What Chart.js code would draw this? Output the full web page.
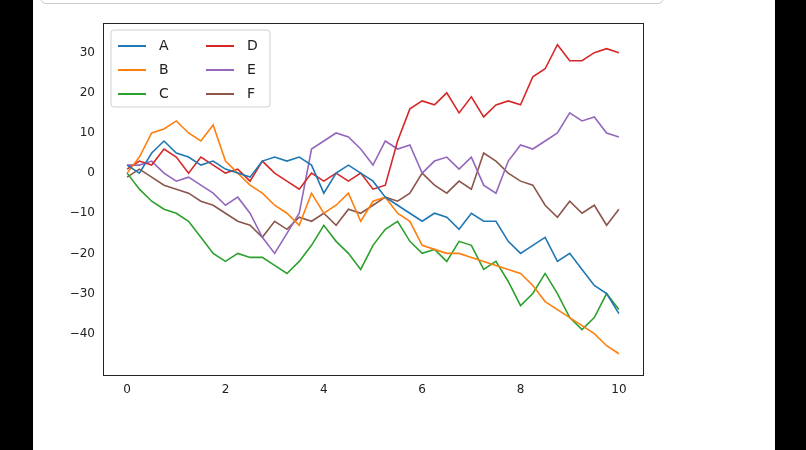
<!DOCTYPE html>
<html>
<head>
<meta charset="utf-8">
<script src="https://cdn.jsdelivr.net/npm/chart.js@4"></script>
<style>
  body { margin:0; background:#000; width:806px; height:450px; overflow:hidden; position:relative; }
  #page { position:absolute; left:33px; top:0; width:742px; height:450px; background:#fff; }
  #topbox { position:absolute; left:40px; top:-10px; width:622px; height:12px; border:1px solid #ccc; border-radius:6px; background:#fff; }
  #wrap { position:absolute; left:60px; top:0; width:600px; height:420px; }
</style>
</head>
<body>
<div id="page"></div>
<div id="topbox"></div>
<div id="wrap"><canvas id="c"></canvas></div>
<script>
const xs = [0,0.25,0.5,0.75,1,1.25,1.5,1.75,2,2.25,2.5,2.75,3,3.25,3.5,3.75,4,4.25,4.5,4.75,5,5.25,5.5,5.75,6,6.25,6.5,6.75,7,7.25,7.5,7.75,8,8.25,8.5,8.75,9,9.25,9.5,9.75,10];
const seriesA = [2,0,5,8,5,4,2,3,1,0,-1,3,4,3,4,2,-5,0,2,0,-2,-6,-8,-10,-12,-10,-11,-14,-10,-12,-12,-17,-20,-18,-16,-22,-20,-24,-28,-30,-35];
const seriesB = [0,4,10,11,13,10,8,12,3,0,-3,-5,-8,-10,-13,-5,-10,-8,-5,-12,-7,-6,-10,-12,-18,-19,-20,-20,-21,-22,-23,-24,-25,-28,-32,-34,-36,-38,-40,-43,-45];
const seriesC = [0,-4,-7,-9,-10,-12,-16,-20,-22,-20,-21,-21,-23,-25,-22,-18,-13,-17,-20,-24,-18,-14,-12,-17,-20,-19,-22,-17,-18,-24,-22,-27,-33,-30,-25,-30,-36,-39,-36,-30,-34];
const seriesD = [1,3,2,6,4,0,4,2,0,1,-2,3,0,-2,-4,0,-2,0,-2,0,-4,-3,8,16,18,17,20,15,19,14,17,18,17,24,26,32,28,28,30,31,30];
const seriesE = [2,2,3,0,-2,-1,-3,-5,-8,-6,-10,-16,-20,-15,-10,6,8,10,9,6,2,8,6,7,0,3,4,1,4,-3,-5,3,7,6,8,10,15,13,14,10,9];
const seriesF = [-1,1,-1,-3,-4,-5,-7,-8,-10,-12,-13,-16,-12,-14,-11,-12,-10,-13,-9,-10,-8,-6,-7,-5,0,-3,-5,-2,-4,5,3,0,-2,-3,-8,-11,-7,-10,-8,-13,-9];
const names = ['A','B','C','D','E','F'];
const colors = ['#1f77b4','#ff7f0e','#2ca02c','#d62728','#9467bd','#8c564b'];
const yTicks = [-40,-30,-20,-10,0,10,20,30];
const xTicks = [0,2,4,6,8,10];

const all = [seriesA,seriesB,seriesC,seriesD,seriesE,seriesF];
const datasets = all.map((s,i) => ({
  label: names[i],
  data: s.map((v,j) => ({ x: xs[j], y: v })),
  borderColor: colors[i], borderWidth: 1.6, pointRadius: 0, tension: 0
}));

const frameLegend = {
  id: 'frameLegend',
  afterDraw(chart) {
    const { ctx, chartArea: a } = chart;
    ctx.save();
    ctx.strokeStyle = '#222'; ctx.lineWidth = 1;
    ctx.strokeRect(a.left + 0.5, a.top + 0.5, a.right - a.left, a.bottom - a.top);
    // legend box, two columns
    const lx = a.left + 8, ly = a.top + 7;
    ctx.fillStyle = 'rgba(255,255,255,0.85)';
    ctx.strokeStyle = '#d0d0d0';
    ctx.beginPath(); ctx.roundRect(lx, ly, 159, 77, 3); ctx.fill(); ctx.stroke();
    ctx.font = '14px "DejaVu Sans"'; ctx.textBaseline = 'middle';
    names.forEach((n, i) => {
      const col = Math.floor(i / 3), row = i % 3;
      const x = lx + 7 + col * 88, y = ly + 16 + row * 24;
      ctx.strokeStyle = colors[i]; ctx.lineWidth = 2;
      ctx.beginPath(); ctx.moveTo(x, y); ctx.lineTo(x + 28, y); ctx.stroke();
      ctx.fillStyle = '#222'; ctx.fillText(n, x + 41, y);
    });
    ctx.restore();
  }
};

new Chart(document.getElementById('c'), {
  type: 'line',
  data: { datasets },
  options: {
    responsive: true, maintainAspectRatio: false, animation: false,
    layout: { padding: { top: 23, right: 17 } },
    plugins: { legend: { display: false }, tooltip: { enabled: false } },
    scales: {
      x: {
        type: 'linear', min: -0.49, max: 10.49,
        grid: { display: false, drawTicks: true, tickLength: 5 },
        border: { display: false },
        afterBuildTicks: ax => { ax.ticks = xTicks.map(v => ({ value: v })); },
        afterFit: ax => { ax.height = 45; },
        ticks: { color: '#222', font: { family: 'DejaVu Sans', size: 12 }, maxRotation: 0 }
      },
      y: {
        min: -50.3, max: 37.4,
        grid: { display: false, tickLength: 5 },
        border: { display: false },
        afterBuildTicks: ax => { ax.ticks = yTicks.map(v => ({ value: v })); },
        afterFit: ax => { ax.width = 43; },
        ticks: { color: '#222', font: { family: 'DejaVu Sans', size: 12 },
          callback: v => (v < 0 ? '\u2212' + Math.abs(v) : String(v)) }
      }
    }
  },
  plugins: [frameLegend]
});
</script>
</body>
</html>
